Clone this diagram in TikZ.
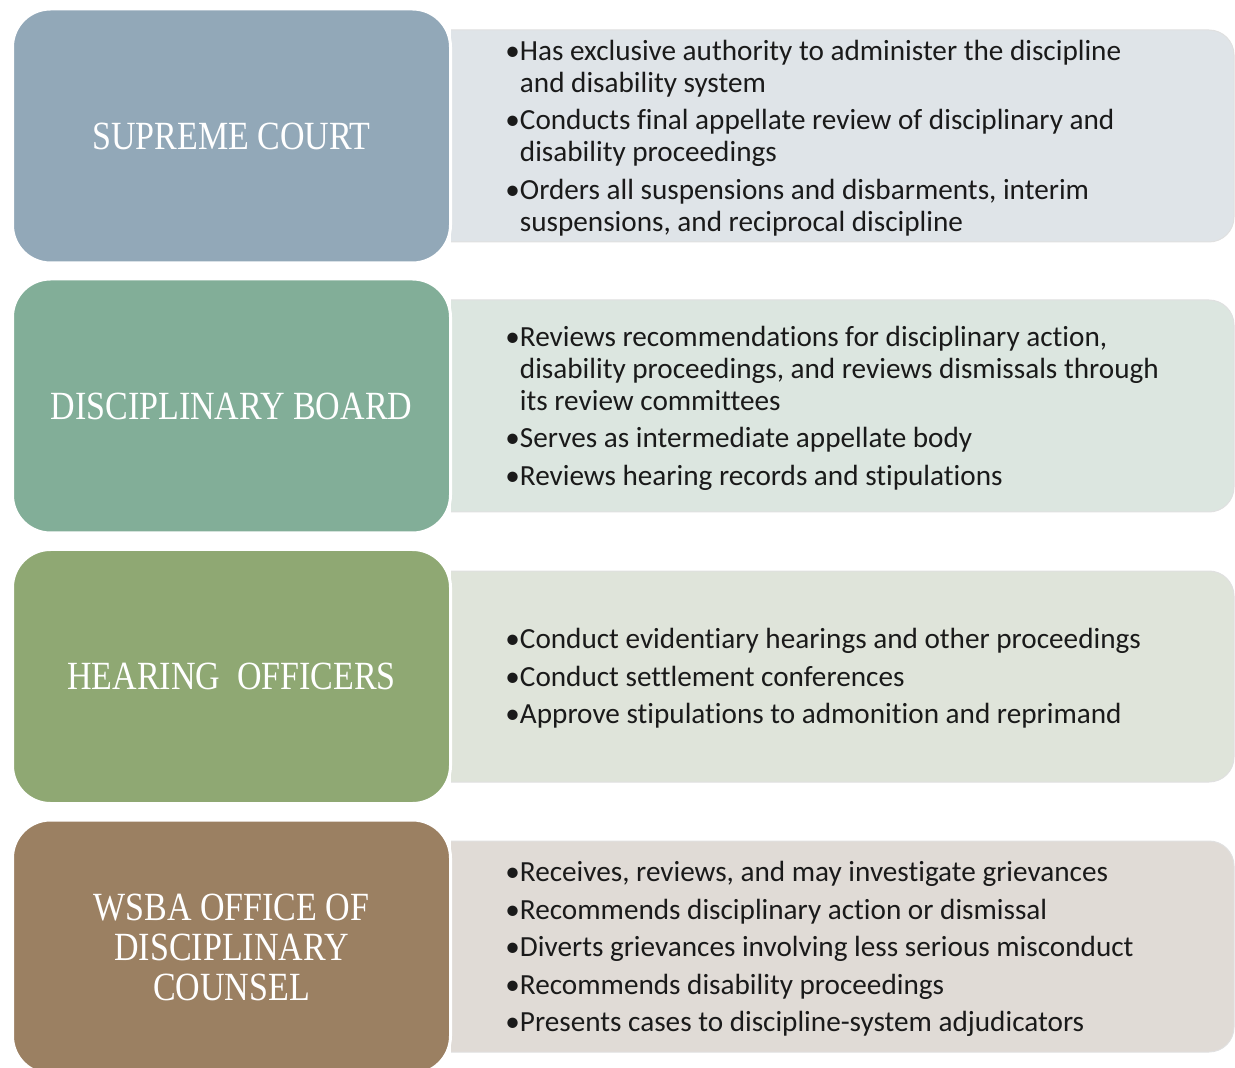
\documentclass[tikz,border=0pt]{standalone}
\usepackage{fontspec}
\setmainfont{Carlito}[Ligatures=NoCommon]
\newfontfamily\headfont[FakeStretch=0.85]{Liberation Serif}

\definecolor{scDark}{HTML}{92A8B8}
\definecolor{scLight}{HTML}{DFE4E8}
\definecolor{dbDark}{HTML}{82AE98}
\definecolor{dbLight}{HTML}{DCE6E0}
\definecolor{hoDark}{HTML}{8FA873}
\definecolor{hoLight}{HTML}{DFE4DA}
\definecolor{odDark}{HTML}{9B8062}
\definecolor{odLight}{HTML}{E0DBD6}
\definecolor{bodytext}{HTML}{1A1A1A}

\newcommand{\cont}{\hphantom{•}}

\tikzset{
  headbox/.style={draw=white, line width=1.5pt, rounded corners=19pt,
    minimum width=219pt, minimum height=127pt, inner sep=0pt,
    text=white, align=center,
    font=\headfont\fontsize{20pt}{20pt}\selectfont},
  listtext/.style={anchor=west, align=left, inner sep=0pt, text=bodytext,
    font=\fontsize{14.6pt}{16pt}\selectfont},
  panel/.style={rounded corners=12.5pt},
  panelrim/.style={draw=black!12, line width=0.5pt, rounded corners=12.5pt}
}

\begin{document}
\begin{tikzpicture}[x=0.5pt,y=-0.5pt]
\useasboundingbox (0,0) rectangle (1235,1068);
\clip (0,0) rectangle (1235,1068);

% light panels behind the lists, square on the left, rounded on the right
\begin{scope}
  \clip (451,0) rectangle (1235,1068);
  \fill[panel, scLight] (400,30)  rectangle (1234,242);
  \draw[panelrim]       (400,30)  rectangle (1234,242);
  \fill[panel, dbLight] (400,300) rectangle (1234,512);
  \draw[panelrim]       (400,300) rectangle (1234,512);
  \fill[panel, hoLight] (400,571) rectangle (1234,782);
  \draw[panelrim]       (400,571) rectangle (1234,782);
  \fill[panel, odLight] (400,841) rectangle (1234,1052);
  \draw[panelrim]       (400,841) rectangle (1234,1052);
\end{scope}

% coloured heading boxes
\node[headbox, fill=scDark] (sc) at (231.5,136) {SUPREME COURT};
\node[headbox, fill=dbDark] (db) at (231.5,406) {DISCIPLINARY BOARD};
\node[headbox, fill=hoDark] (ho) at (231.5,676.5) {HEARING\ \ OFFICERS};
\node[headbox, fill=odDark] (od) at (231.5,947) {WSBA OFFICE OF\\DISCIPLINARY\\COUNSEL};

% duties of each body
\node[listtext] (scList) at (505,138) {%
  •Has exclusive authority to administer the discipline\\
  \cont and disability system\\[2.75pt]
  •Conducts final appellate review of disciplinary and\\
  \cont disability proceedings\\[2.75pt]
  •Orders all suspensions and disbarments, interim\\
  \cont suspensions, and reciprocal discipline};

\node[listtext] (dbList) at (505,408) {%
  •Reviews recommendations for disciplinary action,\\
  \cont disability proceedings, and reviews dismissals through\\
  \cont its review committees\\[2.75pt]
  •Serves as intermediate appellate body\\[2.75pt]
  •Reviews hearing records and stipulations};

\node[listtext] (hoList) at (505,678.5) {%
  •Conduct evidentiary hearings and other proceedings\\[2.75pt]
  •Conduct settlement conferences\\[2.75pt]
  •Approve stipulations to admonition and reprimand};

\node[listtext] (odList) at (505,949) {%
  •Receives, reviews, and may investigate grievances\\[2.75pt]
  •Recommends disciplinary action or dismissal\\[2.75pt]
  •Diverts grievances involving less serious misconduct\\[2.75pt]
  •Recommends disability proceedings\\[2.75pt]
  •Presents cases to discipline-system adjudicators};
\end{tikzpicture}
\end{document}
